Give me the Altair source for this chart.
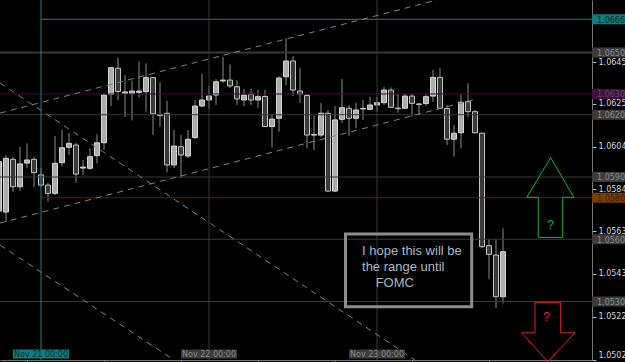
import altair as alt
import pandas as pd

# ---- hourly candles, hours counted from Nov 21 00:00 ----
hours = list(range(-6, 67))
open_ = [1.05736, 1.05731, 1.05985, 1.05853, 1.05967, 1.05985, 1.05910, 1.05861, 1.05821, 1.05969,
         1.06043, 1.06054, 1.05943, 1.05942, 1.06003, 1.06065, 1.06299, 1.06424, 1.06302, 1.06303,
         1.06308, 1.06311, 1.06379, 1.06196, 1.06207, 1.05958, 1.06046, 1.06001, 1.06090, 1.06242,
         1.06271, 1.06295, 1.06363, 1.06367, 1.06335, 1.06271, 1.06298, 1.06271, 1.06288, 1.06143,
         1.06183, 1.06383, 1.06459, 1.06314, 1.06293, 1.06102, 1.06102, 1.06207, 1.05832, 1.06178,
         1.06231, 1.06183, 1.06228, 1.06226, 1.06247, 1.06258, 1.06319, 1.06232, 1.06231, 1.06290,
         1.06252, 1.06254, 1.06290, 1.06380, 1.06230, 1.06082, 1.06113, 1.06263, 1.06215, 1.06111,
         1.05569, 1.05524, 1.05323]
high = [1.05991, 1.06006, 1.05996, 1.06046, 1.06062, 1.05998, 1.05942, 1.05872, 1.06098, 1.06126,
        1.06111, 1.06064, 1.05982, 1.06038, 1.06106, 1.06305, 1.06430, 1.06476, 1.06392, 1.06365,
        1.06456, 1.06448, 1.06382, 1.06358, 1.06266, 1.06126, 1.06102, 1.06126, 1.06271, 1.06396,
        1.06339, 1.06372, 1.06478, 1.06442, 1.06367, 1.06324, 1.06324, 1.06319, 1.06319, 1.06204,
        1.06387, 1.06568, 1.06483, 1.06424, 1.06300, 1.06196, 1.06257, 1.06223, 1.06242, 1.06372,
        1.06247, 1.06258, 1.06271, 1.06287, 1.06287, 1.06335, 1.06332, 1.06300, 1.06303, 1.06303,
        1.06258, 1.06299, 1.06416, 1.06424, 1.06247, 1.06151, 1.06299, 1.06352, 1.06223, 1.06113,
        1.05600, 1.05600, 1.05653]
low = [1.05717, 1.05683, 1.05828, 1.05834, 1.05942, 1.05853, 1.05853, 1.05781, 1.05813, 1.05950,
       1.06006, 1.05872, 1.05910, 1.05934, 1.05966, 1.06030, 1.06242, 1.06271, 1.06189, 1.06172,
       1.06283, 1.06215, 1.06102, 1.06142, 1.05922, 1.05943, 1.05895, 1.05991, 1.06083, 1.06237,
       1.06228, 1.06247, 1.06353, 1.06329, 1.06247, 1.06242, 1.06247, 1.06232, 1.06141, 1.06042,
       1.06118, 1.06343, 1.06290, 1.06257, 1.06038, 1.06030, 1.06093, 1.05828, 1.05828, 1.06160,
       1.06098, 1.06135, 1.06175, 1.06223, 1.06215, 1.06247, 1.06232, 1.06210, 1.06228, 1.06190,
       1.06199, 1.06242, 1.06263, 1.06228, 1.06054, 1.05998, 1.06038, 1.06190, 1.06110, 1.05556,
       1.05407, 1.05268, 1.05291]
close = [1.05974, 1.05990, 1.05853, 1.05963, 1.05982, 1.05921, 1.05861, 1.05821, 1.05966, 1.06041,
         1.06062, 1.05914, 1.05948, 1.05998, 1.06065, 1.06295, 1.06427, 1.06312, 1.06310, 1.06314,
         1.06314, 1.06379, 1.06204, 1.06201, 1.05958, 1.06049, 1.06006, 1.06082, 1.06242, 1.06271,
         1.06290, 1.06359, 1.06367, 1.06339, 1.06276, 1.06295, 1.06271, 1.06287, 1.06143, 1.06179,
         1.06377, 1.06459, 1.06319, 1.06300, 1.06102, 1.06105, 1.06207, 1.05832, 1.06175, 1.06234,
         1.06183, 1.06223, 1.06230, 1.06247, 1.06258, 1.06319, 1.06236, 1.06229, 1.06290, 1.06255,
         1.06249, 1.06287, 1.06380, 1.06231, 1.06082, 1.06111, 1.06260, 1.06215, 1.06113, 1.05564,
         1.05527, 1.05323, 1.05540]

# ---- horizontal price levels ----
levels = [1.0666, 1.0650, 1.0630, 1.0620, 1.0590, 1.0580, 1.0560, 1.0530]
level_text = ["1.0666", "1.0650", "1.0630", "1.0620", "1.0590", "1.0580", "1.0560", "1.0530"]
level_starts_at_nov21 = [True, False, False, False, False, True, False, False]
level_line_color = ["#148585", "#383838", "#3c0c3c", "#383838", "#383838", "#4d2700", "#383838", "#383838"]
level_line_width = [1, 2, 1, 1, 1, 1, 1, 1]
level_box_color = ["#0f7d7d", "#3c3c3c", "#3f0f3f", "#3c3c3c", "#3c3c3c", "#7a3d00", "#3c3c3c", "#3c3c3c"]
level_label_color = ["#052b2b", "#8c8c8c", "#6a456a", "#8c8c8c", "#8c8c8c", "#3a1d00", "#8c8c8c", "#8c8c8c"]
# price-scale ticks (5-digit quotes, shown cut to 4 decimals)
axis_labels = [1.06452, 1.06252, 1.06046, 1.05842, 1.05639, 1.05434, 1.05226, 1.05020]

# ---- vertical time markers ----
vline_hours = [0, 24, 48]
vline_text = ["Nov 21 00:00", "Nov 22 00:00", "Nov 23 00:00"]
vline_color = ["#148585", "#383838", "#383838"]
vline_box = ["#0f7d7d", "#3a3a3a", "#3a3a3a"]
vline_label_color = ["#053030", "#8a8a8a", "#8a8a8a"]

# ---- dashed trend lines (endpoints: hour, price) ----
trend_id = ["up", "up", "low", "low", "d1", "d1", "d2", "d2"]
trend_h = [-5.857, 56.57, -5.857, 61.71, -5.857, 53.43, -5.857, 19.0]
trend_p = [1.06208, 1.06753, 1.05678, 1.06271, 1.06353, 1.05018, 1.05572, 1.05018]

# ---- annotation text box ----
note_lines = ["I hope this will be", "the range until", "FOMC"]
note_h = [45.86, 45.86, 47.81]
note_p = [1.05524, 1.05448, 1.05371]
box_h = [43.5, 61.53]
box_p = [1.05625, 1.05275]

# ---- arrows ----
green_h = [72.81, 76.14, 74.53, 74.53, 71.04, 71.04, 69.39, 72.81]
green_p = [1.05993, 1.05802, 1.05802, 1.05609, 1.05609, 1.05802, 1.05802, 1.05993]
red_h = [70.57, 74.24, 74.24, 76.29, 72.39, 68.67, 70.57, 70.57]
red_p = [1.05296, 1.05296, 1.05149, 1.05149, 1.05010, 1.05149, 1.05149, 1.05296]
qmark_h = [72.81, 72.24]
qmark_p = [1.05669, 1.05227]
qmark_color = ["#22b040", "#e8202a"]

X0, X1 = -41 / 7, 551 / 7
xs = alt.Scale(domain=[X0, X1], nice=False, zero=False, padding=0)
ys = alt.Scale(domain=[1.05018, 1.06753], nice=False, zero=False, padding=0)
FONT = "DejaVu Sans"

XAX = alt.Axis(values=[-2, 9, 20, 31, 42, 53, 64], labels=False, tickSize=4,
               domainColor="#777777", tickColor="#777777", grid=False, title=None)
YAX = alt.Axis(orient="right", values=axis_labels, tickSize=4,
               labelExpr="slice(format(datum.value, '.5f'), 0, 6)",
               labelPadding=2, labelColor="#d6d6d6", labelFont=FONT, labelFontSize=8,
               domainColor="#777777", tickColor="#bbbbbb", grid=False, title=None,
               labelFlush=True)


def X(field):
    return alt.X(field, scale=xs, axis=XAX)


def Y(field):
    return alt.Y(field, scale=ys, axis=YAX)


candles = pd.DataFrame({"h": hours, "open": open_, "high": high, "low": low, "close": close})

wicks = alt.Chart(candles).mark_rule(color="#8c8c8c", strokeWidth=1).encode(
    x=X("h:Q"), y=Y("low:Q"), y2="high:Q",
)
bull = "datum.close >= datum.open"
bodies = alt.Chart(candles).mark_bar(size=5, strokeWidth=1).encode(
    x=X("h:Q"), y=Y("open:Q"), y2="close:Q",
    fill=alt.condition(bull, alt.value("#acacac"), alt.value("#3a3a3a")),
    stroke=alt.condition(bull, alt.value("#d4d4d4"), alt.value("#c2c2c2")),
)

lv = pd.DataFrame({
    "p": levels, "txt": level_text,
    "x1": [0 if s else X0 for s in level_starts_at_nov21], "x2": [X1] * len(levels),
    "lc": level_line_color, "lw": level_line_width, "bc": level_box_color, "tc": level_label_color,
})
level_lines = alt.Chart(lv).mark_rule().encode(
    x=X("x1:Q"), x2="x2:Q", y=Y("p:Q"),
    color=alt.Color("lc:N", scale=None), strokeWidth=alt.StrokeWidth("lw:Q", scale=None),
)
level_boxes = alt.Chart(lv).mark_tick(orient="horizontal", size=34, thickness=10, opacity=1).encode(
    x=alt.value(609), y=Y("p:Q"), color=alt.Color("bc:N", scale=None),
)
level_labels = alt.Chart(lv).mark_text(align="left", baseline="middle", font=FONT, fontSize=8, dy=1.5).encode(
    x=alt.value(597), y=Y("p:Q"), text="txt:N", color=alt.Color("tc:N", scale=None),
)

vl = pd.DataFrame({"h": vline_hours, "txt": vline_text, "lc": vline_color, "bc": vline_box, "tc": vline_label_color})
vlines = alt.Chart(vl).mark_rule(strokeWidth=1).encode(
    x=X("h:Q"), color=alt.Color("lc:N", scale=None),
)
vboxes = alt.Chart(vl).mark_tick(orient="horizontal", size=56, thickness=9, opacity=1).encode(
    x=X("h:Q"), y=alt.value(354), color=alt.Color("bc:N", scale=None),
)
vlabels = alt.Chart(vl).mark_text(align="center", baseline="middle", font=FONT, fontSize=8).encode(
    x=X("h:Q"), y=alt.value(354.5), text="txt:N", color=alt.Color("tc:N", scale=None),
)

tr = pd.DataFrame({"id": trend_id, "h": trend_h, "p": trend_p})
trends = alt.Chart(tr).mark_line(color="#828282", strokeWidth=1, strokeDash=[6, 5]).encode(
    x=X("h:Q"), y=Y("p:Q"), detail="id:N",
)

bx = pd.DataFrame({"h1": [box_h[0]], "h2": [box_h[1]], "p1": [box_p[0]], "p2": [box_p[1]]})
note_box = alt.Chart(bx).mark_rect(fill="#000000", fillOpacity=0, stroke="#8c8c8c", strokeWidth=3).encode(
    x=X("h1:Q"), x2="h2:Q", y=Y("p1:Q"), y2="p2:Q",
)
nt = pd.DataFrame({"h": note_h, "p": note_p, "txt": note_lines})
note_text = alt.Chart(nt).mark_text(align="left", baseline="alphabetic", font="Liberation Sans", fontSize=13,
                                    color="#a9b6c4").encode(
    x=X("h:Q"), y=Y("p:Q"), text="txt:N",
)

ar = pd.DataFrame({
    "id": ["g"] * len(green_h) + ["r"] * len(red_h),
    "i": list(range(len(green_h))) + list(range(len(red_h))),
    "h": green_h + red_h, "p": green_p + red_p,
    "c": ["#22b040"] * len(green_h) + ["#e02020"] * len(red_h),
})
arrows = alt.Chart(ar).mark_line(strokeWidth=1).encode(
    x=X("h:Q"), y=Y("p:Q"), detail="id:N", order="i:Q", color=alt.Color("c:N", scale=None),
)
qm = pd.DataFrame({"h": qmark_h, "p": qmark_p, "c": qmark_color})
qmarks = alt.Chart(qm).mark_text(text="?", font="Liberation Sans", fontSize=12, baseline="middle").encode(
    x=X("h:Q"), y=Y("p:Q"), color=alt.Color("c:N", scale=None),
)

chart = alt.layer(
    wicks, bodies, level_lines, vlines, trends, note_box, note_text, arrows, qmarks,
    level_boxes, level_labels, vboxes, vlabels,
).properties(
    width=592, height=360, background="#000000",
    padding={"left": 0, "top": 0, "right": 33, "bottom": 2}, autosize="none",
).configure_view(stroke=None, fill="#000000")

chart.save("out.html", embed_options={"renderer": "svg", "actions": False})
